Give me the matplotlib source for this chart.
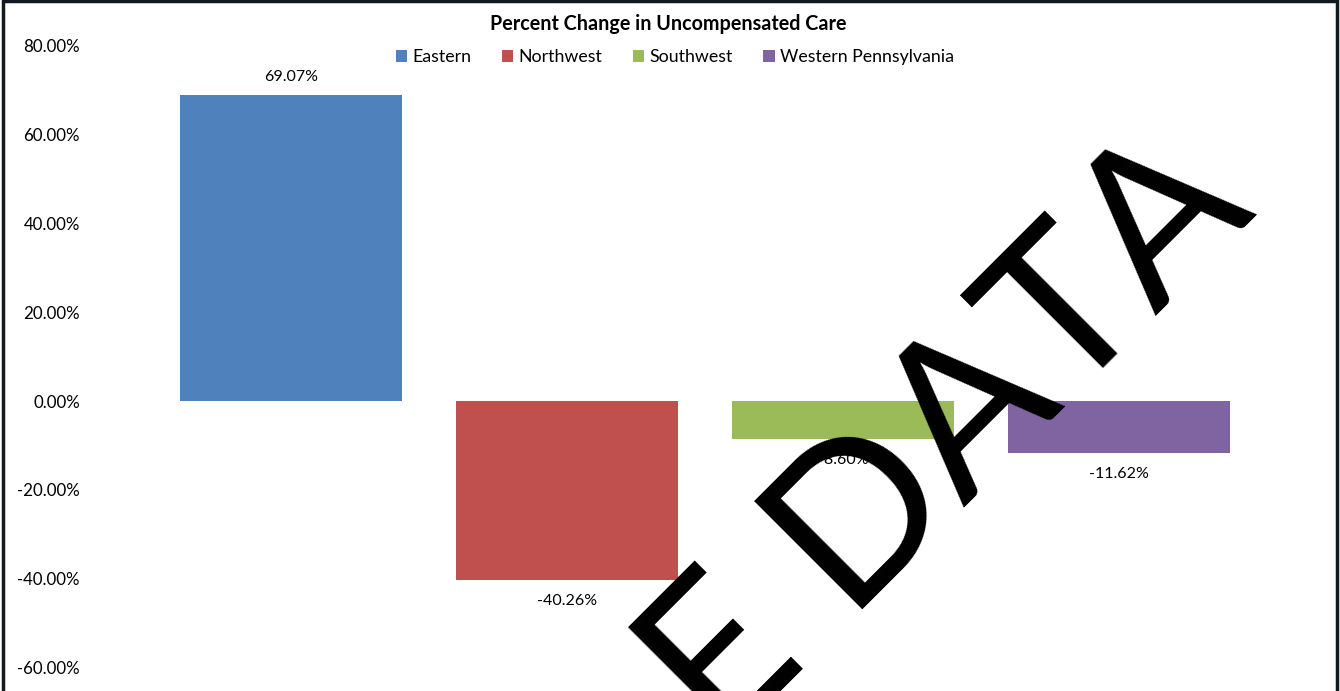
import matplotlib
matplotlib.use("Agg")
import matplotlib.pyplot as plt
from matplotlib.patches import Patch, Rectangle
from matplotlib.ticker import FuncFormatter
import matplotlib.transforms as mtransforms

regions = ["Eastern", "Northwest", "Southwest", "Western Pennsylvania"]
pct_change = [69.07, -40.26, -8.60, -11.62]
colors = ["#4F81BD", "#C0504D", "#9BBB59", "#8064A2"]
y_ticks = [-60, -40, -20, 0, 20, 40, 60, 80]

W, H = 1340, 691
plt.rcParams["font.family"] = ["Lato", "DejaVu Sans"]

fig = plt.figure(figsize=(W / 100, H / 100), dpi=100)

# plot area in pixels (the bottom runs off the picture)
left_px, right_px, top_px, bot_px = 95, 1320, 46, 756
ax = fig.add_axes([left_px / W, 1 - bot_px / H,
                   (right_px - left_px) / W, (bot_px - top_px) / H])

x = list(range(len(regions)))
bars = ax.bar(x, pct_change, width=0.804, color=colors)

ax.set_xlim(-0.710, 3.728)
ax.set_ylim(-80, 80)
ax.set_yticks(y_ticks)
ax.yaxis.set_major_formatter(FuncFormatter(lambda v, p: "{:.2f}%".format(v)))
ax.tick_params(axis="y", length=0, pad=10.8, labelsize=12.2)
ax.set_xticks([])
for s in ax.spines.values():
    s.set_visible(False)

# data labels
for xi, v in zip(x, pct_change):
    off = 18 if v >= 0 else -21
    ax.annotate("{:.2f}%".format(v), (xi, v), xytext=(0, off),
                textcoords="offset pixels", ha="center", va="center",
                fontsize=11.5)

fig.text(668 / W, 1 - 24 / H, "Percent Change in Uncompensated Care",
         ha="center", va="center", fontsize=14.2, fontweight="bold")

handles = [Patch(facecolor=c) for c in colors]
fig.legend(handles, regions, loc="center", bbox_to_anchor=(675 / W, 1 - 57 / H),
           ncol=4, frameon=False, fontsize=12.8, handlelength=0.65,
           handleheight=0.65, handletextpad=0.3, columnspacing=1.7)

# watermark
pix = mtransforms.Affine2D().scale(1 / 100) + fig.dpi_scale_trans
fig.text(723, H - 749, "E DATA", transform=pix, rotation=45,
         rotation_mode="anchor", ha="left", va="baseline",
         fontsize=154, color="black")

# chart border
fig.patches.append(Rectangle((3, -20), 1334, H - 1 + 20, transform=pix,
                             fill=False, edgecolor="#101820", linewidth=2.5))

fig.savefig("out.png", dpi=100)
